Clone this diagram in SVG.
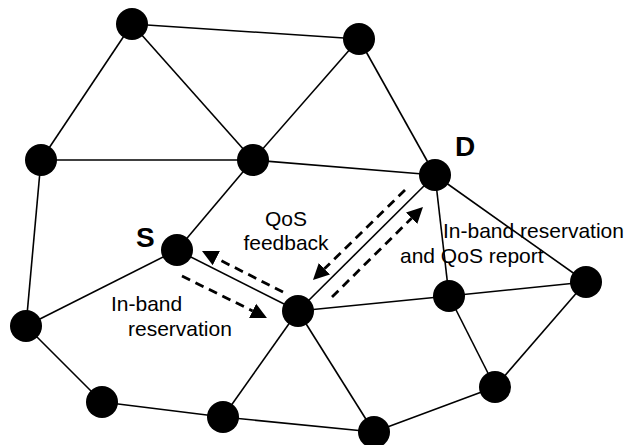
<svg xmlns="http://www.w3.org/2000/svg" width="626" height="445" viewBox="0 0 626 445">
  <style>
    .edge { stroke: #000; stroke-width: 1.6; fill: none; }
    .flow { stroke: #000; stroke-width: 2.8; fill: none; stroke-dasharray: 9 6; marker-end: url(#head); }
    .node { fill: #000; }
    .lbl { font-family: "Liberation Sans", Arial, sans-serif; font-size: 21px; fill: #000; }
    .big { font-family: "Liberation Sans", Arial, sans-serif; font-size: 28px; font-weight: bold; fill: #000; }
  </style>
  <defs>
    <marker id="head" markerUnits="userSpaceOnUse" markerWidth="17" markerHeight="18" viewBox="0 -9 17 18" refX="0" refY="0" orient="auto">
      <path d="M0,-8 L16,0 L0,8 Z" fill="#000"/>
    </marker>
  </defs>
  <rect width="626" height="445" fill="#fff"/>
  <g id="connectors">
    <line class="edge" x1="132" y1="24" x2="359" y2="39"/>
    <line class="edge" x1="132" y1="24" x2="41" y2="160"/>
    <line class="edge" x1="132" y1="24" x2="253" y2="160"/>
    <line class="edge" x1="359" y1="39" x2="253" y2="160"/>
    <line class="edge" x1="359" y1="39" x2="435" y2="175"/>
    <line class="edge" x1="41" y1="160" x2="253" y2="160"/>
    <line class="edge" x1="41" y1="160" x2="26" y2="326"/>
    <line class="edge" x1="253" y1="160" x2="435" y2="175"/>
    <line class="edge" x1="253" y1="160" x2="177" y2="250"/>
    <line class="edge" x1="177" y1="250" x2="26" y2="326"/>
    <line class="edge" x1="177" y1="250" x2="298" y2="311"/>
    <line class="edge" x1="298" y1="311" x2="435" y2="175"/>
    <line class="edge" x1="298" y1="311" x2="449" y2="296"/>
    <line class="edge" x1="298" y1="311" x2="223" y2="417"/>
    <line class="edge" x1="298" y1="311" x2="374" y2="432"/>
    <line class="edge" x1="435" y1="175" x2="449" y2="296"/>
    <line class="edge" x1="435" y1="175" x2="586" y2="282"/>
    <line class="edge" x1="449" y1="296" x2="586" y2="282"/>
    <line class="edge" x1="449" y1="296" x2="495" y2="387"/>
    <line class="edge" x1="586" y1="282" x2="495" y2="387"/>
    <line class="edge" x1="495" y1="387" x2="374" y2="432"/>
    <line class="edge" x1="223" y1="417" x2="374" y2="432"/>
    <line class="edge" x1="26" y1="326" x2="102" y2="402"/>
    <line class="edge" x1="102" y1="402" x2="223" y2="417"/>
    <line class="flow" x1="182" y1="276" x2="252.6" y2="310.9"/>
    <line class="flow" x1="283" y1="292" x2="216.3" y2="258.2"/>
    <line class="flow" x1="405" y1="190" x2="324.4" y2="268.8"/>
    <line class="flow" x1="332" y1="297" x2="411.6" y2="218.2"/>
  </g>
  <g id="n1"><circle class="node" cx="132" cy="24" r="16"/></g>
  <g id="n2"><circle class="node" cx="359" cy="39" r="16"/></g>
  <g id="n3"><circle class="node" cx="41" cy="160" r="16"/></g>
  <g id="n4"><circle class="node" cx="253" cy="160" r="16"/></g>
  <g id="nD"><circle class="node" cx="435" cy="175" r="16"/><text class="big" x="455" y="156">D</text></g>
  <g id="nS"><circle class="node" cx="177" cy="250" r="16"/><text class="big" x="136" y="247">S</text></g>
  <g id="n7"><circle class="node" cx="298" cy="311" r="16"/></g>
  <g id="n8"><circle class="node" cx="449" cy="296" r="16"/></g>
  <g id="n9"><circle class="node" cx="586" cy="282" r="16"/></g>
  <g id="n10"><circle class="node" cx="26" cy="326" r="16"/></g>
  <g id="n11"><circle class="node" cx="102" cy="402" r="16"/></g>
  <g id="n12"><circle class="node" cx="223" cy="417" r="16"/></g>
  <g id="n13"><circle class="node" cx="495" cy="387" r="16"/></g>
  <g id="n14"><circle class="node" cx="374" cy="432" r="16"/></g>
  <g id="labels">
    <text class="lbl" x="286" y="226" text-anchor="middle">QoS</text>
    <text class="lbl" x="286" y="250" text-anchor="middle">feedback</text>
    <text class="lbl" x="111" y="311">In-band</text>
    <text class="lbl" x="128" y="336">reservation</text>
    <text class="lbl" x="443" y="238">In-band reservation</text>
    <text class="lbl" x="400" y="263">and QoS report</text>
  </g>
</svg>
